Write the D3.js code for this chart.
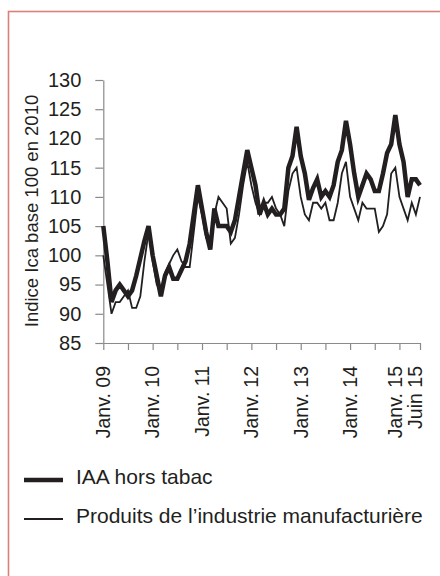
<!DOCTYPE html>
<html>
<head>
<meta charset="utf-8">
<script src="https://cdn.jsdelivr.net/npm/d3@7"></script>
<style>
  body { margin: 0; background: #fff; }
  text { font-family: "Liberation Sans", Arial, sans-serif; fill: #231f20; }
</style>
</head>
<body>
<svg id="chart" width="440" height="576"></svg>
<script>
// indices mensuels, janv. 2009 -> juin 2015
const iaa = [
  105, 99, 92, 94, 95, 94, 93, 94, 96.5, 99.5, 102.5, 105,
  100, 96.5, 93, 96.5, 98, 96, 96, 97.5, 99, 102, 107, 112,
  108, 104, 101, 108, 105, 105, 105, 104, 106, 110, 114, 118,
  115, 112, 107, 109, 107, 108, 107, 107, 108, 115, 117, 122,
  117, 114, 109.5, 111.5, 113, 110, 111, 110, 112, 116, 118, 123,
  119, 114, 110, 112, 114, 113, 111, 111, 114, 117.5, 119, 124,
  119, 116, 110, 113, 113, 112
];
const manuf = [
  100, 95, 90, 92, 92, 93, 94, 91, 91, 93, 99, 104,
  99, 95, 94, 97, 98.5, 100, 101, 99, 98, 98, 104, 110,
  107, 103, 102, 107, 110, 109, 108, 102, 103, 107, 112, 116,
  112, 109, 107, 109, 109, 110, 108, 107, 105, 111, 114, 115,
  110, 107, 106, 109, 109, 108, 109, 106, 106, 109, 114, 116,
  110, 108, 106, 109, 108, 108, 108, 104, 105, 107, 114, 115,
  110, 108, 106, 109, 107, 110
];
const yTicks = [85, 90, 95, 100, 105, 110, 115, 120, 125, 130];
const tickMonths = [0, 6, 12, 18, 24, 30, 36, 42, 48, 54, 60, 66, 72, 77];
const labelMonths = [0, 12, 24, 36, 48, 60, 72, 77];
const labelTexts = ["Janv. 09", "Janv. 10", "Janv. 11", "Janv. 12", "Janv. 13", "Janv. 14", "Janv. 15", "Juin 15"];
const seriesNames = ["IAA hors tabac", "Produits de l\u2019industrie manufacturi\u00e8re"];

const svg = d3.select("#chart");

// cadre
svg.append("rect")
  .attr("x", 8.5).attr("y", 11.5)
  .attr("width", 440).attr("height", 580)
  .attr("fill", "none")
  .attr("stroke", "#d9817c")
  .attr("stroke-width", 1.6);

const x = d3.scaleLinear().domain([0, iaa.length - 1]).range([103.3, 420]);
const y = d3.scaleLinear().domain([85, 130]).range([343, 80]);

// axe Y
const yAxis = svg.append("g")
  .attr("transform", "translate(103.3,0)")
  .call(d3.axisLeft(y).tickValues(yTicks).tickSize(8).tickSizeOuter(0).tickPadding(14));
yAxis.select(".domain").attr("stroke", "#8a8a8a").attr("stroke-width", 1.2);
yAxis.selectAll(".tick line").attr("stroke", "#8a8a8a").attr("stroke-width", 1.2);
yAxis.selectAll("text").style("font-size", "20px").attr("fill", "#231f20");

// axe X
const xAxis = svg.append("g")
  .attr("transform", "translate(0,343)")
  .call(d3.axisBottom(x).tickValues(tickMonths).tickSize(7).tickSizeOuter(0).tickFormat(""));
xAxis.select(".domain").attr("stroke", "#8a8a8a").attr("stroke-width", 1.2);
xAxis.selectAll(".tick line").attr("stroke", "#8a8a8a").attr("stroke-width", 1.2);

// les deux dernières étiquettes sont décalées à gauche pour ne pas déborder
svg.append("g")
  .selectAll("text")
  .data(labelMonths)
  .enter()
  .append("text")
  .attr("transform", (d) => "translate(" + (x(d) - (d >= 72 ? 4.5 : 0)) + ",366) rotate(-90)")
  .attr("dy", "0.35em")
  .style("text-anchor", "end")
  .style("font-size", "19.5px")
  .text((d, i) => labelTexts[i]);

// titre axe Y
svg.append("text")
  .attr("transform", "translate(38,211) rotate(-90)")
  .style("text-anchor", "middle")
  .style("font-size", "18.5px")
  .text("Indice Ica base 100 en 2010");

// courbes
const line = d3.line()
  .x((d, i) => x(i))
  .y((d) => y(d));

svg.append("path")
  .datum(manuf)
  .attr("d", line)
  .attr("fill", "none")
  .attr("stroke", "#231f20")
  .attr("stroke-width", 1.8);

svg.append("path")
  .datum(iaa)
  .attr("d", line)
  .attr("fill", "none")
  .attr("stroke", "#231f20")
  .attr("stroke-width", 4.5);

// légende
const legend = svg.append("g");
const legendRows = [
  {name: seriesNames[0], w: 4.5, y: 480},
  {name: seriesNames[1], w: 1.8, y: 519}
];
legend.selectAll("line")
  .data(legendRows)
  .enter()
  .append("line")
  .attr("x1", 24).attr("x2", 63)
  .attr("y1", (d) => d.y).attr("y2", (d) => d.y)
  .attr("stroke", "#231f20")
  .attr("stroke-width", (d) => d.w);
legend.selectAll("text")
  .data(legendRows)
  .enter()
  .append("text")
  .attr("x", 76)
  .attr("y", (d) => d.y + 3.5)
  .style("font-size", "21px")
  .text((d) => d.name);
</script>
</body>
</html>
